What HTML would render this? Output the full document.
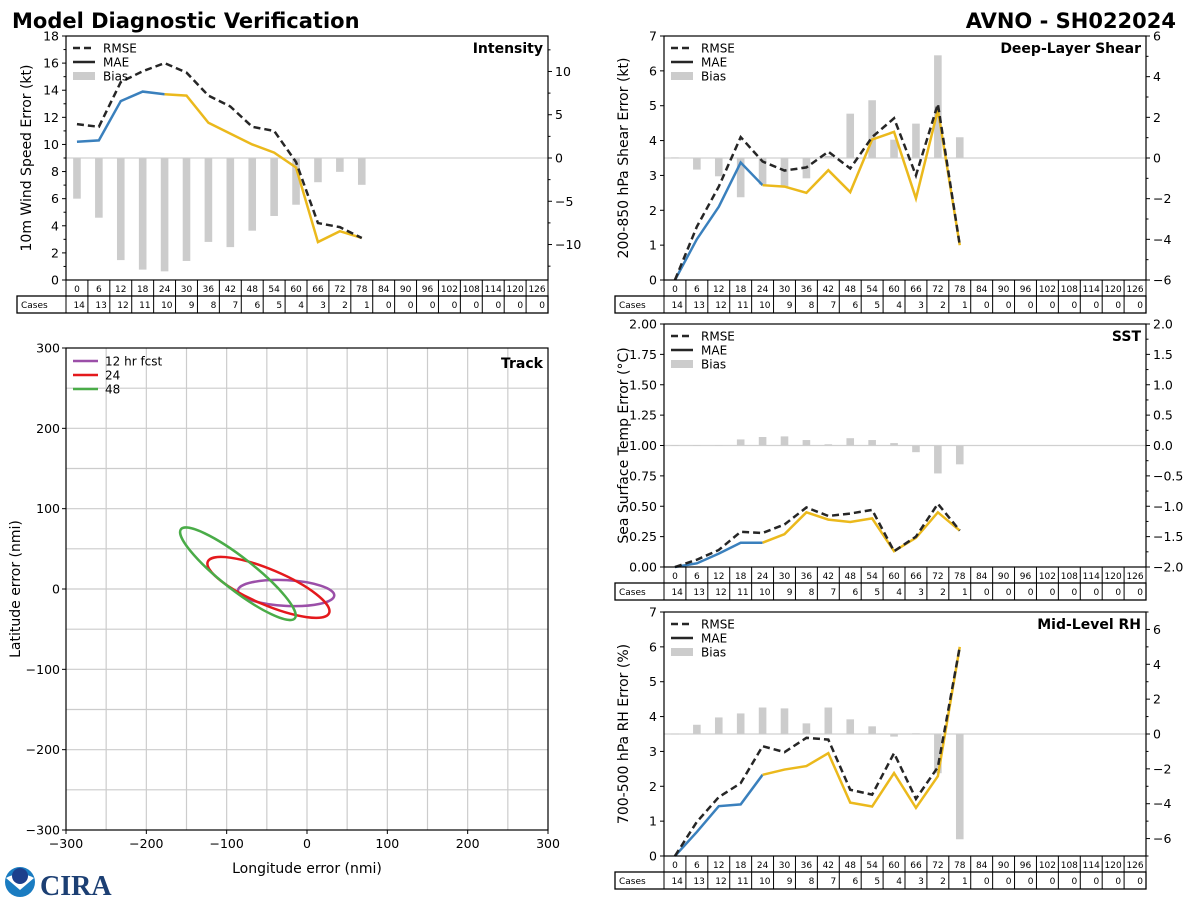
<!DOCTYPE html>
<html><head><meta charset="utf-8">
<style>
body{margin:0;background:#fff;}
svg{display:block;font-family:"DejaVu Sans","Liberation Sans",sans-serif;}
</style></head>
<body>
<svg id="chart" width="1200" height="900" xmlns="http://www.w3.org/2000/svg">
<text x="12" y="28" font-size="21" font-weight="bold">Model Diagnostic Verification</text>
<text x="1176" y="28" font-size="21" font-weight="bold" text-anchor="end">AVNO - SH022024</text>
<g>
<circle cx="20" cy="882" r="15" fill="#1a7cc1"/>
<path d="M6 878 Q20 870 34 878 L20 890 Z" fill="#fff"/>
<circle cx="20" cy="876" r="8" fill="#1c3f8c"/>
<text x="40" y="895" font-size="28" font-weight="bold" fill="#1c3f73" font-family="Liberation Serif, serif">CIRA</text>
</g>
</svg>
<script>
const leads = [0,6,12,18,24,30,36,42,48,54,60,66,72,78,84,90,96,102,108,114,120,126];
const cases = [14,13,12,11,10,9,8,7,6,5,4,3,2,1,0,0,0,0,0,0,0,0];

const intRmse = [11.5,11.3,14.6,15.4,16.0,15.3,13.6,12.8,11.3,11.0,8.7,4.2,3.9,3.1];
const intMae  = [10.2,10.3,13.2,13.9,13.7,13.6,11.6,10.8,10.0,9.4,8.3,2.8,3.6,3.1];
const intBias = [-4.7,-6.9,-11.8,-12.9,-13.1,-11.9,-9.7,-10.3,-8.4,-6.7,-5.4,-2.8,-1.6,-3.1];

const shrRmse = [0,1.53,2.68,4.1,3.4,3.14,3.23,3.68,3.2,4.1,4.64,3.0,5.05,1.0];
const shrMae  = [0,1.17,2.1,3.37,2.72,2.68,2.5,3.15,2.52,4.03,4.25,2.34,4.88,1.0];
const shrBias = [0.03,-0.57,-0.9,-1.93,-1.3,-1.4,-1.0,0.1,2.18,2.84,0.9,1.69,5.05,1.02];

const sstRmse = [0,0.06,0.14,0.29,0.28,0.35,0.49,0.42,0.44,0.47,0.13,0.25,0.52,0.30];
const sstMae  = [0,0.03,0.11,0.2,0.2,0.27,0.45,0.39,0.37,0.40,0.13,0.24,0.45,0.30];
const sstBias = [0.005,0.005,0.005,0.1,0.14,0.15,0.09,0.02,0.12,0.09,0.04,-0.11,-0.46,-0.31];

const rhRmse = [0,0.98,1.69,2.09,3.15,2.98,3.39,3.34,1.9,1.76,2.95,1.64,2.55,6.0];
const rhMae  = [0,0.69,1.43,1.48,2.33,2.48,2.58,2.95,1.53,1.42,2.38,1.38,2.29,6.0];
const rhBias = [0.02,0.53,0.95,1.18,1.52,1.47,0.61,1.52,0.84,0.44,-0.15,0.04,-2.25,-6.04];

// track ellipses
const trackLabels = ["12 hr fcst","24","48"];
const trackCx = [-26,-48,-86];
const trackCy = [-5,2,19];
const trackA = [60,82,90];
const trackB = [16,22,20];
const trackAng = [-3,-23,-38];

const svg = document.getElementById('chart');
const NS = 'http://www.w3.org/2000/svg';
function mk(tag, attrs, parent, txt){
  const e = document.createElementNS(NS, tag);
  for (const k in attrs) e.setAttribute(k, attrs[k]);
  if (txt !== undefined) e.textContent = txt;
  (parent||svg).appendChild(e);
  return e;
}
function fmt(v, d){ const s = v.toFixed(d); return s.replace('-', '\u2212'); }

function panel(o){
  const g = mk('g', {});
  
  
  const {x0,x1,y0,y1} = o;
  const n = leads.length, cw = (x1-x0)/n;
  const xs = i => x0 + (i+0.5)*cw;
  const yl = v => y1 - (v - o.lmin)/(o.lmax - o.lmin)*(y1-y0);
  const yr = v => y1 - (v - o.rmin)/(o.rmax - o.rmin)*(y1-y0);
  const zl = mk('line', {x1:x0, x2:x1, y1:yr(0), y2:yr(0), stroke:'#d0d0d0', 'stroke-width':1.2}, g);
  
  
  o.bias.forEach((v,i) => {
    const ya = yr(0), yb = yr(v);
    const r = mk('rect', {x:xs(i)-3.8, y:Math.min(ya,yb), width:7.6, height:Math.max(Math.abs(yb-ya),0.8), fill:'#cccccc'}, g);
    
    
  });
  const pts = (arr, a, b) => arr.slice(a, b+1).map((v,k) => xs(a+k)+','+yl(v)).join(' ');
  const m1 = mk('polyline', {points:pts(o.mae,0,4), fill:'none', stroke:'#3a80bd', 'stroke-width':2.5}, g);
  
  
  const m2 = mk('polyline', {points:pts(o.mae,4,o.mae.length-1), fill:'none', stroke:'#ebb91c', 'stroke-width':2.5}, g);
  
  
  const rl = mk('polyline', {points:pts(o.rmse,0,o.rmse.length-1), fill:'none', stroke:'#262626', 'stroke-width':2.5, 'stroke-dasharray':'7,4'}, g);
  
  
  mk('rect', {x:x0, y:y0, width:x1-x0, height:y1-y0, fill:'none', stroke:'#000', 'stroke-width':1.2}, g);
  o.lticks.forEach(v => {
    const y = yl(v);
    mk('line', {x1:x0-4, x2:x0, y1:y, y2:y, stroke:'#000'}, g);
    const t = mk('text', {x:x0-7, y:y+4.5, 'font-size':12.5, 'text-anchor':'end'}, g, fmt(v, o.ld));
    
    
  });
  (o.lminor||[]).forEach(v => mk('line', {x1:x0-2.5, x2:x0, y1:yl(v), y2:yl(v), stroke:'#000'}, g));
  o.rticks.forEach(v => {
    const y = yr(v);
    mk('line', {x1:x1, x2:x1+4, y1:y, y2:y, stroke:'#000'}, g);
    const t = mk('text', {x:x1+7, y:y+4.5, 'font-size':12.5}, g, fmt(v, o.rd));
    
    
  });
  (o.rminor||[]).forEach(v => mk('line', {x1:x1, x2:x1+2.5, y1:yr(v), y2:yr(v), stroke:'#000'}, g));
  const yt = mk('text', {x:0, y:0, 'font-size':14, 'text-anchor':'middle', transform:`translate(${o.ylx},${(y0+y1)/2}) rotate(-90)`}, g, o.ylabel);
  
  
  const pt = mk('text', {x:x1-5, y:y0+17, 'font-size':14, 'font-weight':'bold', 'text-anchor':'end'}, g, o.title);
  
  
  const lg = mk('g', {}, g);
  
  
  const lx = x0+7, ly = y0+12;
  mk('line', {x1:lx, x2:lx+22, y1:ly, y2:ly, stroke:'#262626', 'stroke-width':2.5, 'stroke-dasharray':'7,4'}, lg);
  mk('text', {x:lx+30, y:ly+4.5, 'font-size':12}, lg, 'RMSE');
  mk('line', {x1:lx, x2:lx+22, y1:ly+14, y2:ly+14, stroke:'#262626', 'stroke-width':2.5}, lg);
  mk('text', {x:lx+30, y:ly+18.5, 'font-size':12}, lg, 'MAE');
  mk('rect', {x:lx, y:ly+24, width:22, height:8, fill:'#cccccc'}, lg);
  mk('text', {x:lx+30, y:ly+32.5, 'font-size':12}, lg, 'Bias');
  const tb = mk('g', {}, g);
  
  
  const r1 = y1, r2 = y1+16, r3 = y1+33;
  mk('rect', {x:x0, y:r1, width:x1-x0, height:16, fill:'none', stroke:'#000'}, tb);
  mk('rect', {x:x0-49, y:r2, width:x1-x0+49, height:17, fill:'none', stroke:'#000', 'stroke-width':1.3}, tb);
  mk('text', {x:x0-45, y:r2+12, 'font-size':9}, tb, 'Cases');
  leads.forEach((L,i) => {
    const cx = x0 + i*cw;
    mk('line', {x1:cx, x2:cx, y1:r1, y2:r3, stroke:'#000'}, tb);
    mk('text', {x:xs(i), y:r1+12, 'font-size':9, 'text-anchor':'middle'}, tb, String(L));
    mk('text', {x:cx+cw-3, y:r2+12, 'font-size':9, 'text-anchor':'end'}, tb, String(cases[i]));
  });
}

panel({name:'intensity', x0:66, x1:548, y0:36, y1:280, lmin:0, lmax:18, rmin:-14.1, rmax:14.1,
  lticks:[0,2,4,6,8,10,12,14,16,18], ld:0, lminor:[1,3,5,7,9,11,13,15,17],
  rticks:[-10,-5,0,5,10], rd:0, rminor:[-12.5,-7.5,-2.5,2.5,7.5,12.5],
  rmse:intRmse, mae:intMae, bias:intBias, ylabel:'10m Wind Speed Error (kt)', ylx:31, title:'Intensity'});
panel({name:'shear', x0:664, x1:1146, y0:36, y1:280, lmin:0, lmax:7, rmin:-6, rmax:6,
  lticks:[0,1,2,3,4,5,6,7], ld:0, rticks:[-6,-4,-2,0,2,4,6], rd:0, rminor:[-5,-3,-1,1,3,5],
  rmse:shrRmse, mae:shrMae, bias:shrBias, ylabel:'200-850 hPa Shear Error (kt)', ylx:628, title:'Deep-Layer Shear'});
panel({name:'sst', x0:664, x1:1146, y0:324, y1:567, lmin:0, lmax:2, rmin:-2, rmax:2,
  lticks:[0,0.25,0.5,0.75,1,1.25,1.5,1.75,2], ld:2, rticks:[-2,-1.5,-1,-0.5,0,0.5,1,1.5,2], rd:1,
  rminor:[-1.75,-1.25,-0.75,-0.25,0.25,0.75,1.25,1.75],
  rmse:sstRmse, mae:sstMae, bias:sstBias, ylabel:'Sea Surface Temp Error (\u00B0C)', ylx:628, title:'SST'});
panel({name:'rh', x0:664, x1:1146, y0:612, y1:856, lmin:0, lmax:7, rmin:-7, rmax:7,
  lticks:[0,1,2,3,4,5,6,7], ld:0, rticks:[-6,-4,-2,0,2,4,6], rd:0, rminor:[-7,-5,-3,-1,1,3,5,7],
  rmse:rhRmse, mae:rhMae, bias:rhBias, ylabel:'700-500 hPa RH Error (%)', ylx:628, title:'Mid-Level RH'});

(function(){
  const g = mk('g', {});
  
  
  const x0=66, x1=548, y0=348, y1=830;
  const sx = v => x0 + (v+300)/600*(x1-x0);
  const sy = v => y1 - (v+300)/600*(y1-y0);
  for (let v=-250; v<=250; v+=50){
    mk('line', {x1:sx(v), x2:sx(v), y1:y0, y2:y1, stroke:'#cccccc', 'stroke-width':1.2}, g);
    mk('line', {x1:x0, x2:x1, y1:sy(v), y2:sy(v), stroke:'#cccccc', 'stroke-width':1.2}, g);
  }
  const colors = ['#9b4fa8','#e4191c','#4aac48'];
  trackLabels.forEach((lab,i) => {
    const rx = trackA[i]/600*(x1-x0), ry = trackB[i]/600*(y1-y0);
    const e = mk('ellipse', {cx:sx(trackCx[i]), cy:sy(trackCy[i]), rx:rx, ry:ry, fill:'none', stroke:colors[i], 'stroke-width':2.5,
      transform:`rotate(${-trackAng[i]} ${sx(trackCx[i])} ${sy(trackCy[i])})`}, g);
    
    
    const ly = y0 + 13 + i*14;
    mk('line', {x1:x0+7, x2:x0+32, y1:ly, y2:ly, stroke:colors[i], 'stroke-width':2.5}, g);
    const t = mk('text', {x:x0+39, y:ly+4.5, 'font-size':12}, g, lab);
    
    
  });
  mk('rect', {x:x0, y:y0, width:x1-x0, height:y1-y0, fill:'none', stroke:'#000', 'stroke-width':1.2}, g);
  for (let v=-300; v<=300; v+=100){
    mk('line', {x1:sx(v), x2:sx(v), y1:y1, y2:y1+4, stroke:'#000'}, g);
    mk('text', {x:sx(v), y:y1+18, 'font-size':12.5, 'text-anchor':'middle'}, g, fmt(v,0));
    mk('line', {x1:x0-4, x2:x0, y1:sy(v), y2:sy(v), stroke:'#000'}, g);
    mk('text', {x:x0-6, y:sy(v)+4.5, 'font-size':12.5, 'text-anchor':'end'}, g, fmt(v,0));
  }
  const xt = mk('text', {x:(x0+x1)/2, y:873, 'font-size':14, 'text-anchor':'middle'}, g, 'Longitude error (nmi)');
  
  
  const yt = mk('text', {x:0, y:0, 'font-size':14, 'text-anchor':'middle', transform:`translate(20,${(y0+y1)/2}) rotate(-90)`}, g, 'Latitude error (nmi)');
  
  
  const tt = mk('text', {x:x1-5, y:y0+20, 'font-size':14, 'font-weight':'bold', 'text-anchor':'end'}, g, 'Track');
  
  
})();
</script>
</body></html>
